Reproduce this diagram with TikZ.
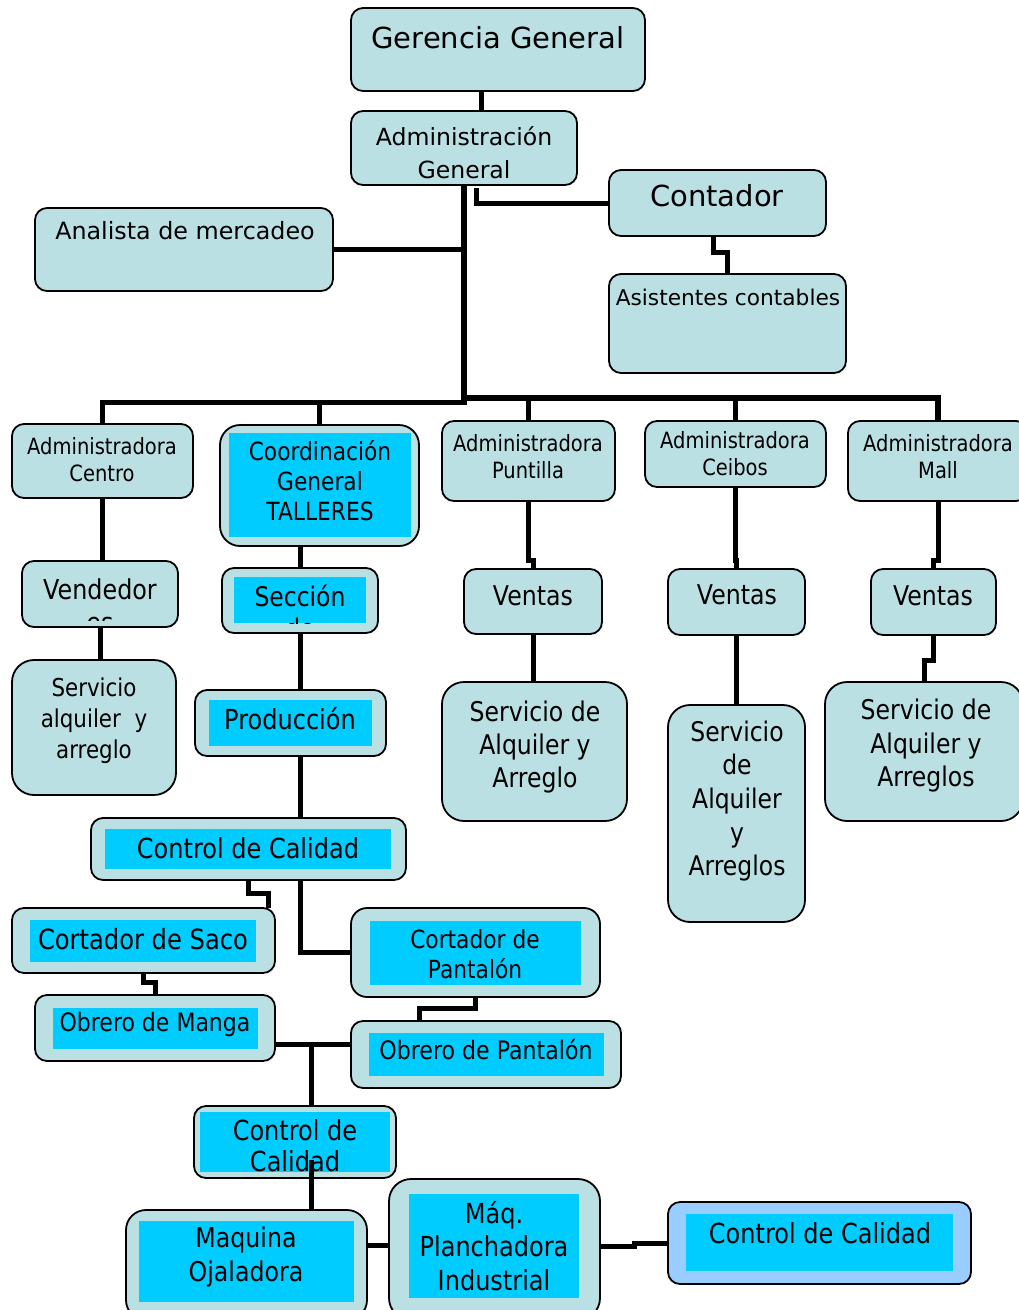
\documentclass[tikz,border=0pt]{standalone}
\usepackage{fontspec}
\setmainfont{DejaVu Sans}
\newfontfamily\fT[FakeStretch=0.87]{DejaVu Sans}
\usetikzlibrary{calc}
\definecolor{boxfill}{HTML}{BBE0E3}
\definecolor{innfill}{HTML}{00CCFF}
\definecolor{qcfill}{HTML}{99CCFF}
\newcommand\fsz[2]{\fontsize{#1}{#2}\selectfont}
\newcommand\obx[6][]{\node[ob,minimum width={(#5-#3)*1pt},minimum height={(#6-#4)*1pt},#1] (#2) at ({(#3+#5)/2},{(#4+#6)/2}) {};}
\newcommand\ibx[5]{\node[ib,minimum width={(#4-#2)*1pt},minimum height={(#5-#3)*1pt}] (#1) at ({(#2+#4)/2},{(#3+#5)/2}) {};}
\begin{document}
\begin{tikzpicture}[x=1pt,y=-1pt,
  ob/.style={rectangle,draw=black,line width=1.8pt,rounded corners=12pt,fill=boxfill,inner sep=0pt,outer sep=0pt},
  ib/.style={rectangle,fill=innfill,draw=none,inner sep=0pt,outer sep=0pt},
  tx/.style={inner sep=0pt,align=center,anchor=center},
  cn/.style={line width=5pt,draw=black},
  trunk/.style={line width=6pt,draw=black}]
\clip (0,0) rectangle (1019,1310);
\fill[white] (0,0) rectangle (1019,1310);

% ---------- outer boxes ----------
\obx{gg}{351}{8}{645}{91}
\obx{ag}{351}{111}{577}{185}
\obx{cont}{609}{170}{826}{236}
\obx{asis}{609}{274}{846}{373}
\obx{ana}{35}{208}{333}{291}
\obx{cen}{12}{424}{193}{498}
\obx[rounded corners=20pt]{coo}{220}{425}{419}{546}
\obx{pun}{442}{421}{615}{501}
\obx{cei}{645}{421}{826}{487}
\obx{mall}{848}{421}{1028}{501}
\obx{vend}{22}{561}{178}{627}
\obx[rounded corners=22pt]{sc}{12}{660}{176}{795}
\obx{sec}{222}{568}{378}{633}
\obx{prod}{195}{690}{386}{756}
\obx{vp}{464}{569}{602}{634}
\obx{vc}{668}{569}{805}{635}
\obx{vm}{871}{569}{996}{635}
\obx[rounded corners=22pt]{sp}{442}{682}{627}{821}
\obx[rounded corners=22pt]{scb}{668}{705}{805}{922}
\obx[rounded corners=22pt]{sm}{825}{682}{1023}{821}
\obx{cc1}{91}{818}{406}{880}
\obx{saco}{12}{908}{275}{973}
\obx[rounded corners=16pt]{cpan}{351}{908}{600}{997}
\obx{manga}{35}{995}{275}{1061}
\obx{opan}{351}{1021}{621}{1088}
\obx{cc2}{194}{1106}{396}{1178}
\obx[rounded corners=20pt]{maq}{126}{1210}{367}{1320}
\obx[rounded corners=22pt]{plan}{389}{1179}{600}{1320}
\obx[fill=qcfill]{cc3}{668}{1202}{971}{1284}

% ---------- inner cyan panels ----------
\ibx{coo-i}{229}{433}{411}{537}
\ibx{sec-i}{234}{577}{366}{623}
\ibx{prod-i}{209}{700}{372}{746}
\ibx{cc1-i}{105}{829}{391}{869}
\ibx{saco-i}{30}{920}{256}{962}
\ibx{cpan-i}{370}{921}{581}{985}
\ibx{manga-i}{53}{1008}{258}{1049}
\ibx{opan-i}{369}{1033}{604}{1076}
\ibx{cc2-i}{200}{1112}{390}{1172}
\ibx{maq-i}{139}{1221}{354}{1302}
\ibx{plan-i}{409}{1194}{579}{1298}
\ibx{cc3-i}{686}{1214}{953}{1271}

% ---------- texts ----------
\node[tx,font=\fsz{29}{35}] (gg-t) at (498,38) {Gerencia General};
\node[tx,font=\fsz{23.6}{33}] (ag-t) at (464,153) {Administración\\General};
\node[tx,font=\fsz{29}{35}] (cont-t) at (717,196) {Contador};
\node[tx,font=\fsz{23.8}{29}] (ana-t) at (185,231) {Analista de mercadeo};
\node[tx,font=\fsz{21.7}{26}] (asis-t) at (728,297) {Asistentes contables};
\node[tx,font={\fT\fsz{22.4}{27}}] (cen-t) at (102,459.5) {Administradora\\Centro};
\node[tx,font={\fT\fsz{25}{30}}] (coo-t) at (320,481) {Coordinación\\General\\TALLERES};
\node[tx,font={\fT\fsz{22.4}{27}}] (pun-t) at (528,456.5) {Administradora\\Puntilla};
\node[tx,font={\fT\fsz{22.4}{27}}] (cei-t) at (735,454) {Administradora\\Ceibos};
\node[tx,font={\fT\fsz{22.4}{27}}] (mall-t) at (938,456.5) {Administradora\\Mall};
\begin{scope}
  \clip (22,561) rectangle (178,620);
  \node[tx,anchor=north,font={\fT\fsz{27.4}{33}}] (vend-t) at (100,578) {Vendedor\\es};
\end{scope}
\node[tx,font={\fT\fsz{24.6}{31}}] (sc-t) at (94,721) {Servicio\\alquiler\ \ y\\arreglo};
\begin{scope}
  \clip (234,577) rectangle (366,623);
  \node[tx,anchor=north,font={\fT\fsz{27}{32}}] (sec-t) at (300,585) {Sección\\de};
\end{scope}
\node[tx,font={\fT\fsz{27.6}{33}}] (prod-t) at (290,719) {Producción};
\node[tx,font={\fT\fsz{27.2}{33}}] (vp-t) at (533,596) {Ventas};
\node[tx,font={\fT\fsz{27.2}{33}}] (vc-t) at (737,595) {Ventas};
\node[tx,font={\fT\fsz{27.2}{33}}] (vm-t) at (933,596) {Ventas};
\node[tx,font={\fT\fsz{27.1}{33}}] (sp-t) at (535,747) {Servicio de\\Alquiler y\\Arreglo};
\node[tx,font={\fT\fsz{27}{33.7}}] (scb-t) at (737,801) {Servicio\\de\\Alquiler\\y\\Arreglos};
\node[tx,font={\fT\fsz{27.1}{33.5}}] (sm-t) at (926,746) {Servicio de\\Alquiler y\\Arreglos};
\node[tx,font={\fT\fsz{27.6}{33}}] (cc1-t) at (248,848) {Control de Calidad};
\node[tx,font={\fT\fsz{27.8}{33}}] (saco-t) at (143,939) {Cortador de Saco};
\node[tx,font={\fT\fsz{25}{30}}] (cpan-t) at (475,954) {Cortador de\\Pantalón};
\node[tx,font={\fT\fsz{25.3}{30}}] (manga-t) at (155,1025) {Obrero de Manga};
\node[tx,font={\fT\fsz{25.4}{30}}] (opan-t) at (486,1050) {Obrero de Pantalón};
\begin{scope}
  \clip (200,1112) rectangle (390,1172);
  \node[tx,font={\fT\fsz{27.6}{31}}] (cc2-t) at (295,1146) {Control de\\Calidad};
\end{scope}
\node[tx,font={\fT\fsz{27.2}{34}}] (maq-t) at (246,1257) {Maquina\\Ojaladora};
\node[tx,font={\fT\fsz{27.6}{33.5}}] (plan-t) at (494,1246) {Máq.\\Planchadora\\Industrial};
\node[tx,font={\fT\fsz{27.6}{33}}] (cc3-t) at (820,1233) {Control de Calidad};

% ---------- connectors ----------
\draw[cn] ($(gg.south)+(-17,0)$) -- ($(ag.north)+(17,0)$);
\draw[trunk] (ag.south) |- ($(mall.north)+(0,-23)$) -- (mall.north);
\draw[cn] (pun.north) -- ++(0,-23);
\draw[cn] (cei.north) -- ++(0,-23);
\draw[cn] (cen.north) -- ++(0,-22) -| (ag.south);
\draw[cn] (coo.north) -- ++(0,-23);
\draw[cn] (ana.east) -- (ana.east -| ag.south);
\draw[cn] (cont.west) -| ($(ag.south)+(12,3)$);
\draw[cn] ($(cont.south)+(-4,0)$) |- ($(asis.north)+(0,-22)$) -- (asis.north);
\draw[cn] (cen.south) -- (cen.south |- vend.north);
\draw[cn] (vend.south) -- (vend.south |- sc.north);
\draw[cn] (sec.north) -- (sec.north |- coo.south);
\draw[cn] (sec.south) -- (sec.south |- prod.north);
\draw[cn] (sec.south |- prod.south) -- (sec.south |- cc1.north);
\draw[cn] (pun.south) -- ++(0,59) -| (vp.north);
\draw[cn] (vp.south) -- (vp.south |- sp.north);
\draw[cn] (cei.south) -- ++(0,73) -| (vc.north);
\draw[cn] (vc.south) -- (scb.north);
\draw[cn] (mall.south) -- ++(0,59) -| (vm.north);
\draw[cn] (vm.south) -- ++(0,25) -| (sm.north);
\draw[cn] (cc1.south) -- ++(0,13) -| ($(saco.north)+(124.5,0)$);
\draw[cn] ($(cc1.south)+(51.5,0)$) |- (cpan.west);
\draw[cn] (saco.south) -- ++(0,9) -| (manga.north);
\draw[cn] (cpan.south) -- ++(0,11) -| ($(opan.north)+(-67,0)$);
\draw[cn] ($(manga.east)+(0,16)$) -- ($(opan.west)+(0,-10.5)$);
\draw[cn] ($(cc2.north)+(16,0)$) -- ++(0,-62);
\draw[cn] ($(maq.north)+(64.5,0)$) -- ($(cc2.south)+(16,-18)$);
\draw[cn] ($(maq.east)+(0,-20)$) coordinate (m1) -- (m1 -| plan.west);
\draw[cn] (cc3.west) -- ++(-34,0) |- ($(plan.east)+(0,-3.5)$);
\end{tikzpicture}
\end{document}
